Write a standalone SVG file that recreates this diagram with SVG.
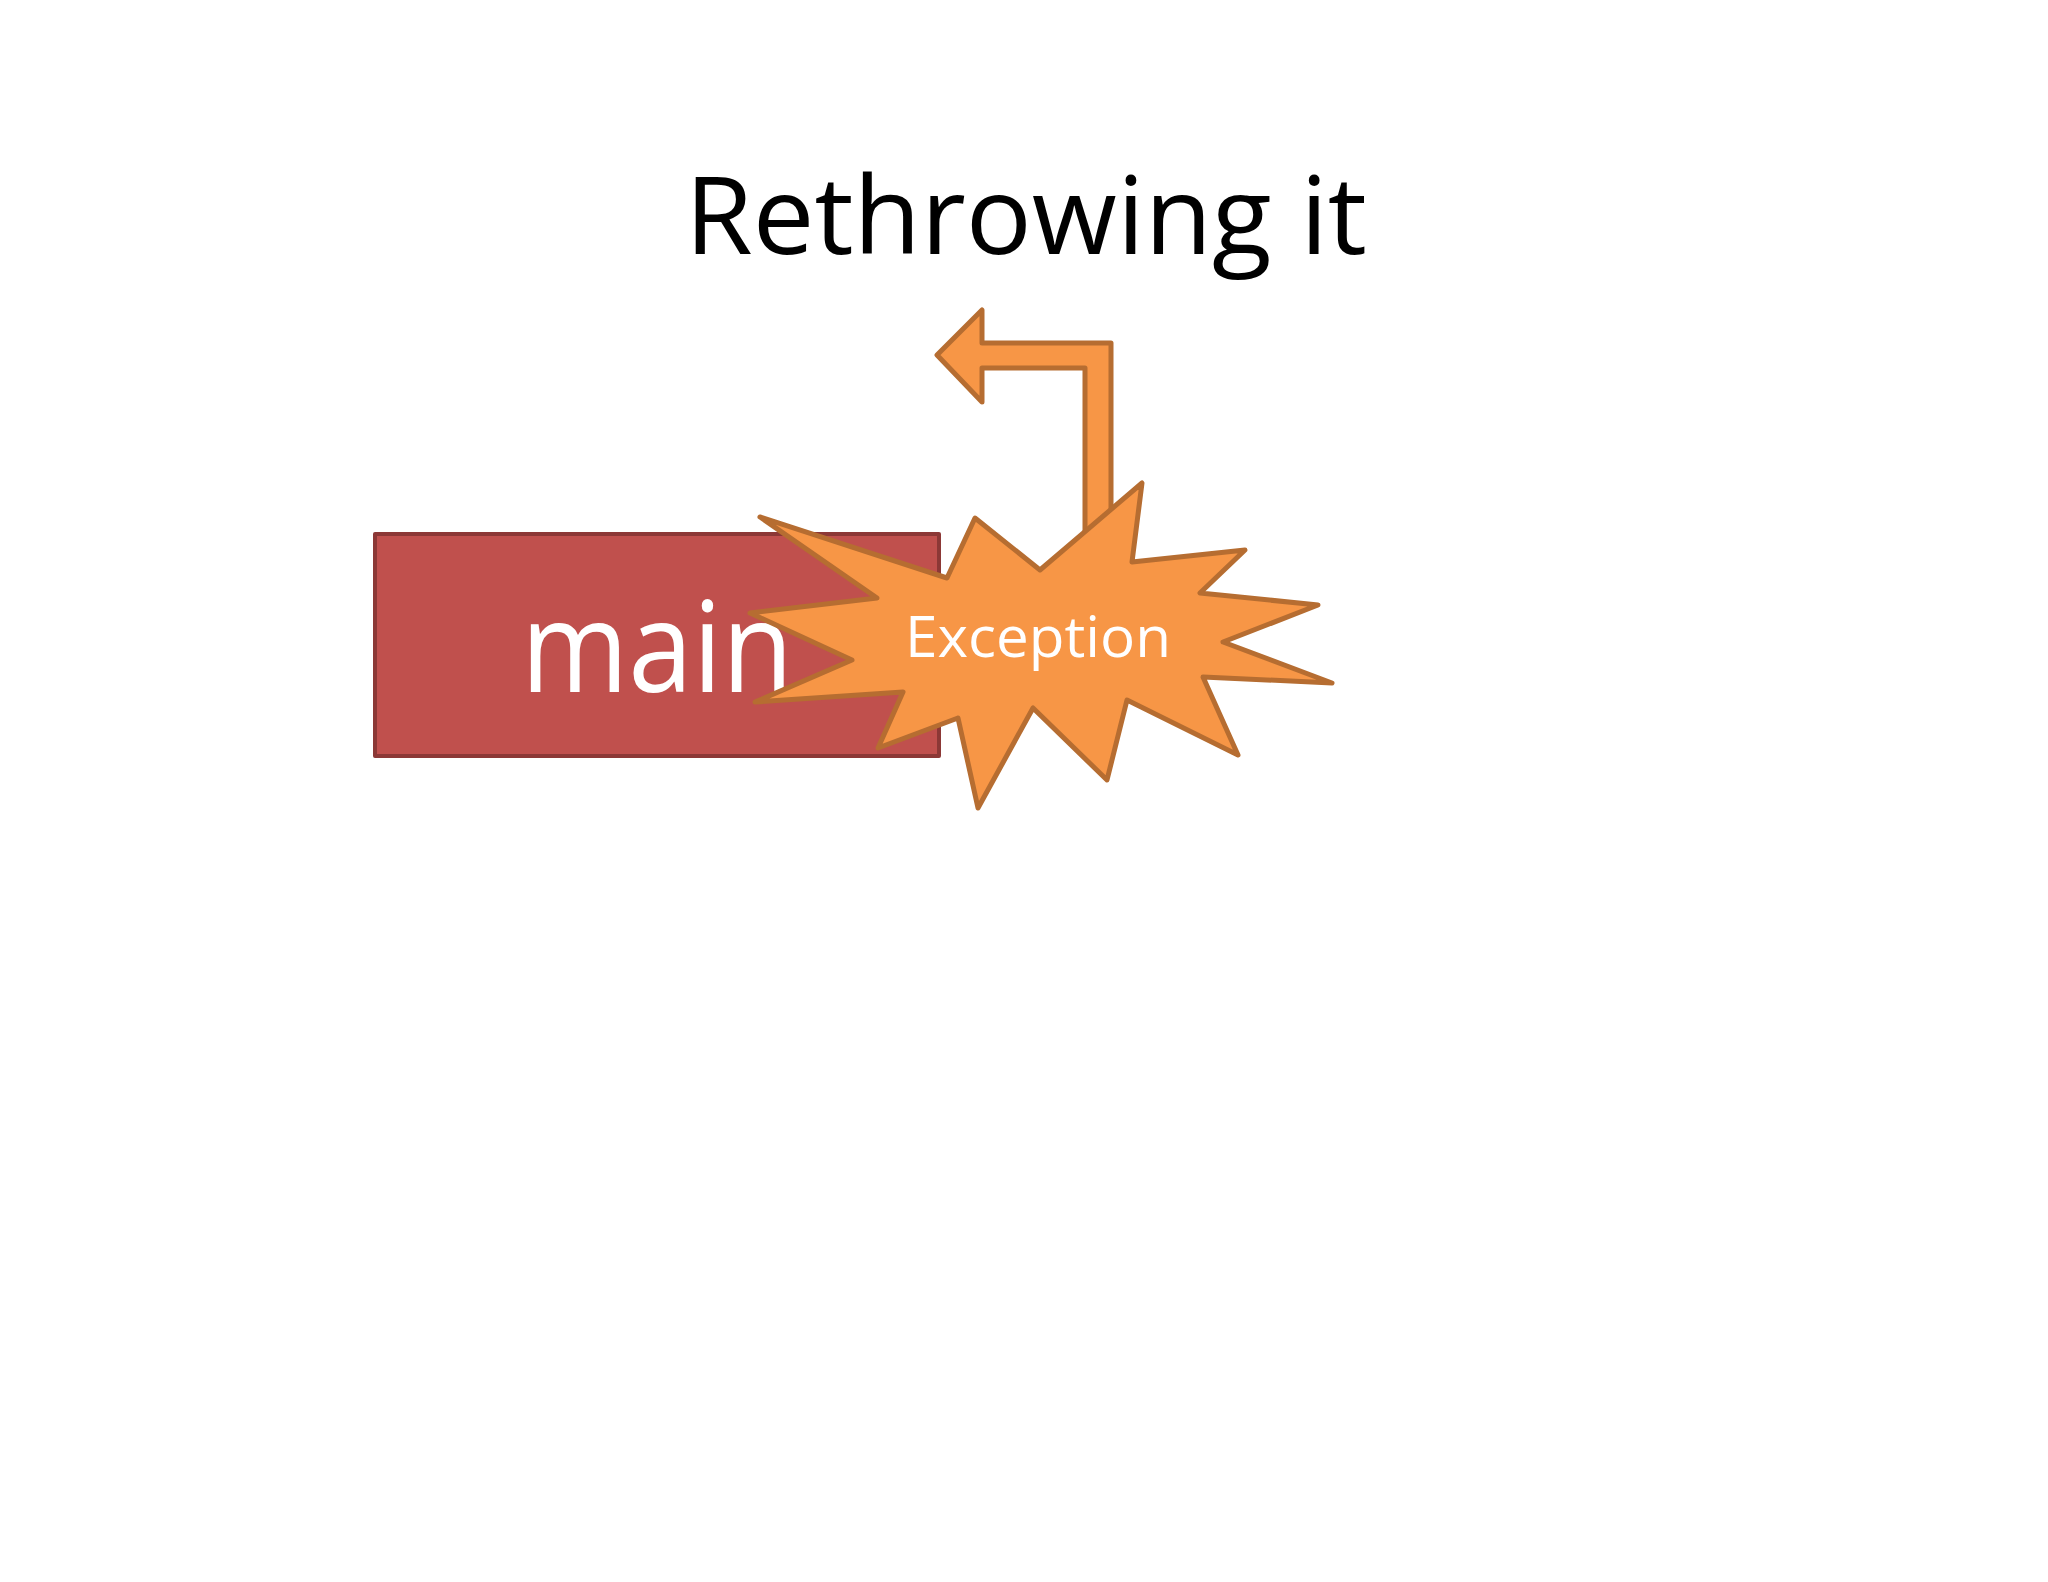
<svg xmlns="http://www.w3.org/2000/svg" width="2048" height="1582" viewBox="0 0 2048 1582">
  <style>
    .title { font-family: "Open Sans", "Liberation Sans", sans-serif; font-size: 108px; fill: #000000; }
    .mainlbl { font-family: "Open Sans", "Liberation Sans", sans-serif; font-size: 126px; fill: #FFFFFF; }
    .exclbl { font-family: "Open Sans", "Liberation Sans", sans-serif; font-size: 56px; fill: #FFFFFF; }
    .box { fill: #C0504D; stroke: #8C3836; stroke-width: 4; stroke-linejoin: round; }
    .orange { fill: #F79646; stroke: #B66D31; stroke-width: 5; stroke-linejoin: round; }
  </style>
  <rect x="0" y="0" width="2048" height="1582" fill="#FFFFFF"/>
  <text class="title" x="1026" y="254" text-anchor="middle" textLength="682" lengthAdjust="spacingAndGlyphs">Rethrowing it</text>
  <g id="main">
    <rect class="box" x="375" y="534" width="564" height="222"/>
    <text class="mainlbl" x="657" y="692" text-anchor="middle" textLength="272" lengthAdjust="spacingAndGlyphs">main</text>
  </g>
  <g id="connectors">
    <polygon class="orange" points="937,355 982,310 982,343 1111,343 1111,560 1085,560 1085,368 982,368 982,402"/>
  </g>
  <g id="exception">
    <polygon class="orange" points="760,517 947,578 975,518 1040,570 1142,483 1132,562 1245,550 1200,593 1318,605 1223,642 1332,683 1203,677 1238,755 1127,700 1107,780 1033,708 978,808 958,718 878,748 903,692 755,702 852,660 750,613 877,598"/>
    <text class="exclbl" x="1038" y="657" text-anchor="middle" textLength="266" lengthAdjust="spacingAndGlyphs">Exception</text>
  </g>
</svg>
